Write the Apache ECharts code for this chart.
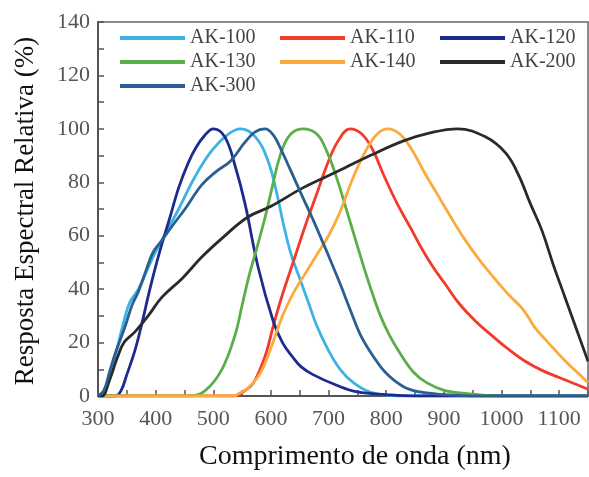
<!DOCTYPE html>
<html>
<head>
<meta charset="utf-8">
<script src="https://cdn.jsdelivr.net/npm/echarts@6/dist/echarts.min.js"></script>
<style>html,body{margin:0;padding:0;background:#fff;}#c{width:589px;height:477px;}</style>
</head>
<body>
<div id="c"></div>
<script>
// ---- data ----
var seriesNames = ['AK-100', 'AK-110', 'AK-120', 'AK-130', 'AK-140', 'AK-200', 'AK-300'];

var ak100X = [300, 315, 330, 345, 355, 370, 385, 400, 420, 440, 468, 498, 526, 547, 573, 595, 610, 622, 635, 650, 665, 680, 700, 720, 743, 772, 820, 1150];
var ak100Y = [0, 3, 15, 28, 35, 40, 47, 54, 62, 70, 82, 92, 98, 100, 97, 88, 76, 64, 53, 44, 35, 26, 17, 10, 5, 1.5, 0, 0];

var ak110X = [300, 535, 555, 570, 590, 605, 620, 640, 660, 680, 700, 718, 737, 758, 777, 795, 819, 842, 862, 882, 902, 925, 955, 984, 1012, 1041, 1071, 1099, 1128, 1150];
var ak110Y = [0, 0, 2, 5, 15, 27, 38, 51, 64, 76, 88, 96, 100, 98, 92, 83, 72, 63, 55, 48, 42, 35, 28, 22.5, 17.5, 13, 9.5, 7, 4.5, 2.5];

var ak120X = [300, 330, 340, 350, 364, 376, 390, 407, 425, 440, 456, 470, 485, 500, 520, 538, 555, 578, 604, 620, 638, 652, 673, 714, 750, 800, 850, 1150];
var ak120Y = [0, 0, 2, 8, 17, 27, 40, 54, 67, 78, 87, 93, 97.5, 100, 97, 86, 72, 48, 28, 20, 14.5, 11, 8, 4, 1.5, 0.5, 0, 0];

var ak130X = [300, 460, 486, 515, 538, 550, 562, 575, 590, 602, 616, 632, 655, 680, 698, 715, 732, 746, 760, 775, 790, 805, 824, 847, 870, 902, 937, 1000, 1150];
var ak130Y = [0, 0, 2, 10, 23, 34, 45, 55, 67, 78, 90, 97.5, 100, 98, 91, 81, 69, 59, 49, 39, 30, 23, 16, 9, 5, 2, 1, 0, 0];

var ak140X = [300, 535, 545, 560, 580, 600, 620, 640, 660, 680, 700, 720, 743, 765, 784, 802, 824, 845, 868, 890, 912, 935, 958, 984, 1012, 1035, 1045, 1060, 1081, 1111, 1133, 1150];
var ak140Y = [0, 0, 1, 3, 8, 18, 30, 39, 46, 53, 60, 69, 82, 92, 98, 100, 98, 92, 83, 75, 67, 59, 52, 45, 38, 33, 30, 25, 20, 13, 8.5, 5];

var ak200X = [300, 307, 320, 333, 345, 364, 387, 411, 446, 480, 515, 560, 600, 656, 715, 772, 830, 876, 924, 972, 1007, 1029, 1050, 1070, 1090, 1110, 1130, 1150];
var ak200Y = [0, 0, 6, 14, 20, 24, 30, 37, 44, 52, 59, 67, 71, 78, 84, 90, 95.5, 98.5, 100, 97, 91, 83, 72, 62, 49, 37, 25, 13];

var ak300X = [300, 310, 320, 330, 347, 359, 370, 385, 396, 410, 430, 451, 480, 505, 530, 555, 572, 590, 603, 616, 633, 656, 673, 691, 697, 720, 738, 755, 777, 800, 830, 859, 900, 950, 1150];
var ak300Y = [0, 2, 9, 16, 26, 34, 39, 48, 54, 58, 64, 70, 79, 84, 88, 95, 98.8, 100, 98, 93, 85, 74, 66, 57, 54, 42, 32, 23, 15, 8.5, 3.5, 1.5, 0.5, 0, 0];

var xTicks = [300, 400, 500, 600, 700, 800, 900, 1000, 1100];
var yTicks = [0, 20, 40, 60, 80, 100, 120, 140];

var colors = ['#3cb3e4', '#f23a2b', '#1d2b8f', '#5cae4a', '#fbab3c', '#2a2a2a', '#2b5e91'];
var xs = [ak100X, ak110X, ak120X, ak130X, ak140X, ak200X, ak300X];
var ys = [ak100Y, ak110Y, ak120Y, ak130Y, ak140Y, ak200Y, ak300Y];

function pairs(x, y) { return x.map(function (v, i) { return [v, y[i]]; }); }

var FONT = 'Liberation Serif';
var series = seriesNames.map(function (n, i) {
  return {
    name: n, type: 'line', data: pairs(xs[i], ys[i]),
    smooth: 0.4, showSymbol: false, symbol: 'none',
    lineStyle: { width: 2.8, color: colors[i] }, itemStyle: { color: colors[i] }
  };
});

var legendPos = [[120, 28], [280, 28], [440, 28], [120, 52], [280, 52], [440, 52], [120, 76]];
var legends = seriesNames.map(function (n, i) {
  return {
    data: [n], left: legendPos[i][0], top: legendPos[i][1],
    icon: 'rect', itemWidth: 65, itemHeight: 4, padding: 0,
    textStyle: { fontFamily: FONT, fontSize: 20, color: '#444', lineHeight: 20 }
  };
});

var chart = echarts.init(document.getElementById('c'));
chart.setOption({
  animation: false,
  backgroundColor: '#fff',
  color: colors,
  legend: legends,
  grid: { left: 98, right: 1, top: 22, bottom: 81, show: true, borderColor: '#666', borderWidth: 1.5, outerBoundsMode: 'none' },
  xAxis: {
    type: 'value', min: 300, max: 1150, interval: 50,
    axisLine: { show: true, lineStyle: { color: '#555', width: 2 } },
    axisTick: { show: true, inside: true, length: 6, lineStyle: { color: '#555', width: 1.5 } },
    splitLine: { show: false },
    axisLabel: {
      margin: 12, fontFamily: FONT, fontSize: 22, color: '#555',
      formatter: function (v) { return xTicks.indexOf(v) >= 0 ? String(v) : ''; }
    }
  },
  yAxis: {
    type: 'value', min: 0, max: 140, interval: 10,
    axisLine: { show: true, lineStyle: { color: '#555', width: 2 } },
    axisTick: { show: true, inside: true, length: 6, lineStyle: { color: '#555', width: 1.5 } },
    splitLine: { show: false },
    axisLabel: {
      margin: 8, fontFamily: FONT, fontSize: 22, color: '#555',
      formatter: function (v) { return yTicks.indexOf(v) >= 0 ? String(v) : ''; }
    }
  },
  graphic: [
    { type: 'text', x: 355, y: 457, style: { text: 'Comprimento de onda (nm)', font: '28px "Liberation Serif"', fill: '#111', textAlign: 'center', textVerticalAlign: 'middle' } },
    { type: 'text', x: 26, y: 211, rotation: Math.PI / 2, style: { text: 'Resposta Espectral Relativa (%)', font: '27px "Liberation Serif"', fill: '#111', textAlign: 'center', textVerticalAlign: 'middle' } }
  ],
  series: series
});
</script>
</body>
</html>
